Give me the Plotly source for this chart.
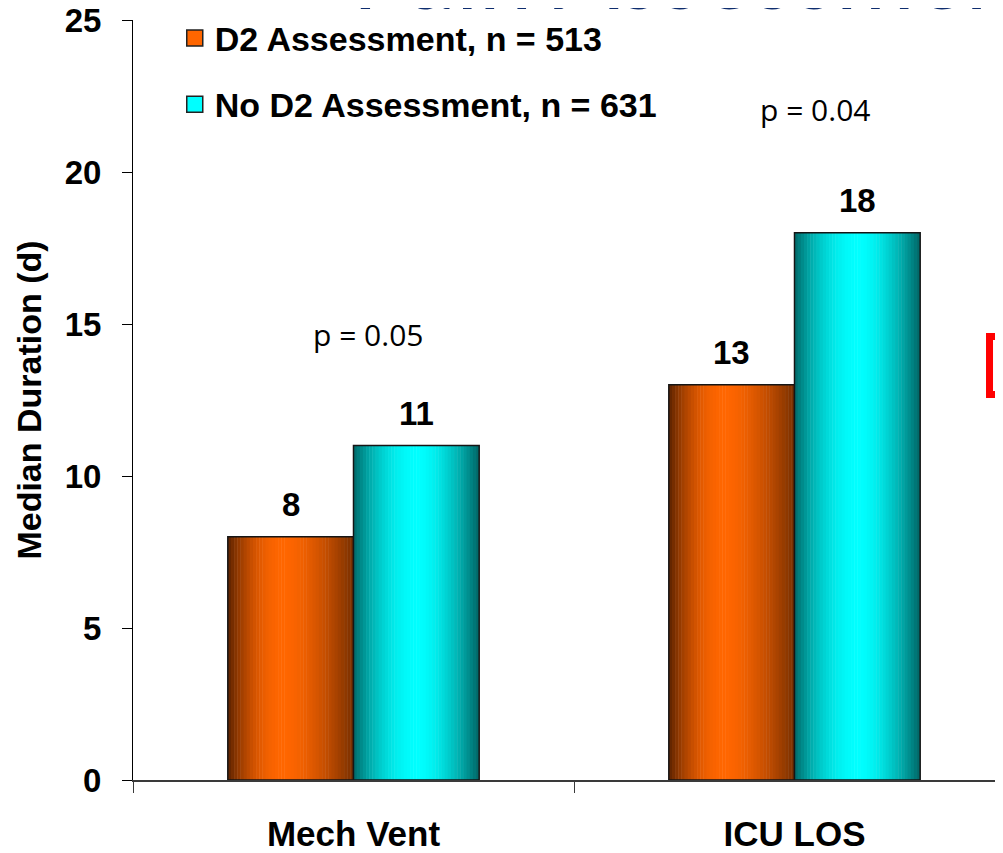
import plotly.graph_objects as go

# ---- data ----
categories = ["Mech Vent", "ICU LOS"]
d2_values = [8, 13]
no_d2_values = [11, 18]
series_names = ["D2 Assessment, n = 513", "No D2 Assessment, n = 631"]
p_labels = ["p = 0.05", "p = 0.04"]
y_ticks = [0, 5, 10, 15, 20, 25]
title_text = "Pain Assessment"

# ---- styling ----
N = 40
BAR_W = 0.285
offsets = [-BAR_W, 0.0]
grad = [
    # left dark, bright, right dark, peak position
    ((92, 34, 0), (255, 102, 0), (118, 46, 0), 0.45),
    ((0, 105, 105), (0, 255, 255), (0, 100, 100), 0.52),
]
legend_colors = ["#ff6600", "#00ffff"]


def shade(t, spec):
    left, bright, right, peak = spec
    if t <= peak:
        u = t / peak
        u = 1 - (1 - u) ** 2
        a, b = left, bright
    else:
        u = (t - peak) / (1 - peak)
        u = u ** 1.6
        a, b = bright, right
    c = [round(a[i] + (b[i] - a[i]) * u) for i in range(3)]
    return "rgb(%d,%d,%d)" % tuple(c)


fig = go.Figure()
all_values = [d2_values, no_d2_values]

for k, vals in enumerate(all_values):
    sw = BAR_W / N
    for j in range(N):
        t = (j + 0.5) / N
        w = sw * (1.15 if j < N - 1 else 1.0)
        fig.add_trace(go.Bar(
            x=categories, y=vals, offset=offsets[k] + j * sw, width=w,
            marker=dict(color=shade(t, grad[k]), line=dict(width=0)),
            showlegend=False, hoverinfo="skip"))
    # outline
    fig.add_trace(go.Bar(
        x=categories, y=vals, offset=offsets[k], width=BAR_W,
        marker=dict(color="rgba(0,0,0,0)", line=dict(color="#151515", width=1.5)),
        showlegend=False, hoverinfo="skip"))

# legend entries
for k, name in enumerate(series_names):
    fig.add_trace(go.Scatter(
        x=[None], y=[None], mode="markers", name=name, legendgroup="g%d" % k,
        marker=dict(symbol="square", size=18, color=legend_colors[k],
                    line=dict(color="#222", width=1.5))))

annotations = []
# value labels
for k, vals in enumerate(all_values):
    for i, v in enumerate(vals):
        annotations.append(dict(
            x=i + offsets[k] + BAR_W / 2, y=v, xref="x", yref="y", text=str(v),
            showarrow=False, yanchor="bottom", yshift=12,
            font=dict(family="Liberation Sans", size=33, color="black", weight="bold")))

# p-values
p_pos = [(0.033, 14.64), (1.046, 22.04)]
for (px, py), lab in zip(p_pos, p_labels):
    annotations.append(dict(
        x=px, y=py, xref="x", yref="y", text=lab, showarrow=False,
        font=dict(family="Open Sans", size=30, color="black")))

# clipped title
annotations.append(dict(
    x=0.249, y=0.986, xref="paper", yref="paper", xanchor="left", yanchor="bottom",
    text=title_text, showarrow=False,
    font=dict(family="Lato", size=96, color="#0e2d6e")))

fig.update_layout(
    width=995, height=845,
    margin=dict(l=125, r=0, t=12, b=73, autoexpand=False),
    paper_bgcolor="white", plot_bgcolor="white",
    barmode="overlay",
    showlegend=True,
    legend=dict(x=0.048, y=1.014, xanchor="left", yanchor="top",
                traceorder="grouped", tracegroupgap=19,
                font=dict(family="Liberation Sans", size=34, color="black", weight="bold"),
                bgcolor="rgba(0,0,0,0)"),
    annotations=annotations,
    shapes=[dict(type="path", xref="paper", yref="paper",
                 path="M 1.2,0.5836 L 0.9845,0.5836 L 0.9845,0.5072 L 1.2,0.5072",
                 line=dict(color="#ff0000", width=7))],
)

fig.update_xaxes(
    type="category", range=[-0.5, 1.4728],
    showline=True, linecolor="#3a3a3a", linewidth=2,
    ticks="outside", tickson="boundaries", ticklen=11, tickcolor="#3a3a3a", tickwidth=1,
    ticklabelstandoff=22, ticklabeloverflow="allow",
    tickfont=dict(family="Liberation Sans", size=35, color="black", weight="bold"),
    showgrid=False, zeroline=False)

fig.update_yaxes(
    range=[0, 25], tickvals=y_ticks,
    showline=True, linecolor="black", linewidth=1,
    ticks="outside", ticklen=10, tickcolor="black", tickwidth=1,
    ticklabelstandoff=14, ticklabeloverflow="allow",
    tickfont=dict(family="Liberation Sans", size=33, color="black", weight="bold"),
    title=dict(text="Median Duration (d)", standoff=12,
               font=dict(family="Liberation Sans", size=34, color="black", weight="bold")),
    showgrid=False, zeroline=False)

fig.write_html("out.html")
